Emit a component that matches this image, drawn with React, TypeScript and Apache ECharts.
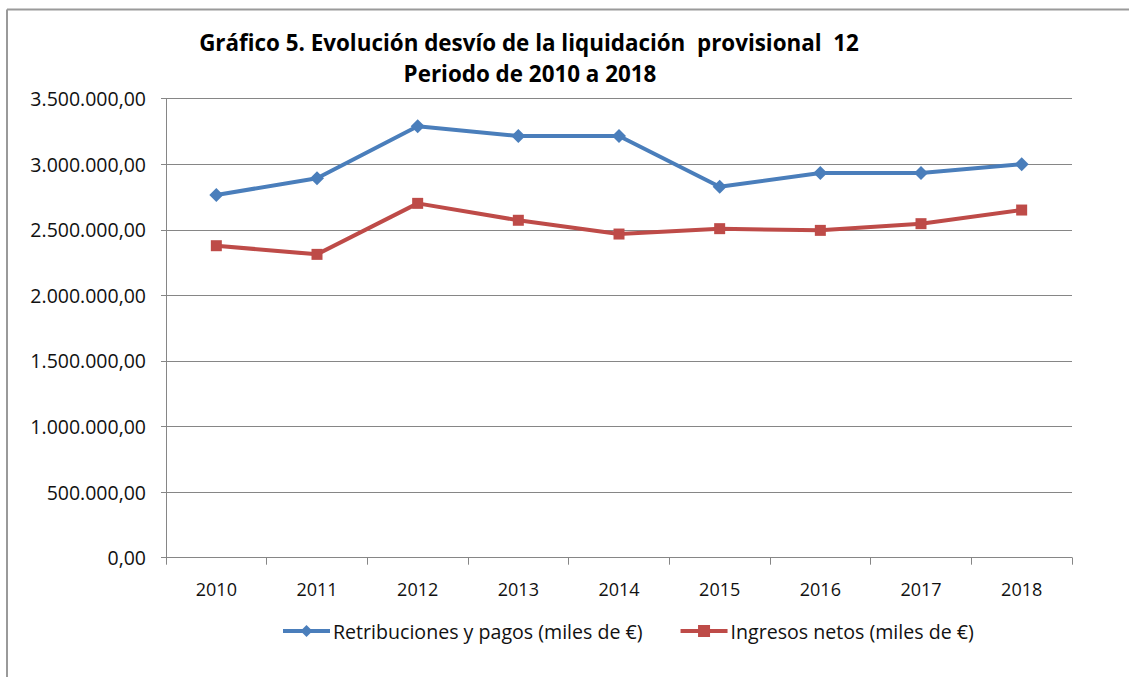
import React, { useEffect, useRef } from "react";
import * as echarts from "echarts";

const years = ["2010", "2011", "2012", "2013", "2014", "2015", "2016", "2017", "2018"];
const retribuciones = [2766000, 2893000, 3290000, 3216000, 3216000, 2829000, 2933000, 2933000, 3000000];
const ingresos = [2379000, 2313000, 2702000, 2573000, 2468000, 2509000, 2496000, 2547000, 2651000];
const seriesNames = ["Retribuciones y pagos (miles de €)", "Ingresos netos (miles de €)"];
const titleLines = ["Gráfico 5. Evolución desvío de la liquidación  provisional  12", "Periodo de 2010 a 2018"];

const FONT = "'Open Sans', Lato, sans-serif";

function fmt(v: number): string {
  const intPart = Math.round(v).toString().replace(/\B(?=(\d{3})+(?!\d))/g, ".");
  return intPart + ",00";
}

export default function App() {
  const ref = useRef<HTMLDivElement>(null);
  useEffect(() => {
    if (!ref.current) return;
    const chart = echarts.init(ref.current, undefined, { renderer: "svg" });
    chart.setOption({
      animation: false,
      backgroundColor: "#fff",
      textStyle: { fontFamily: FONT },
      graphic: [
        { type: "line", shape: { x1: 7, y1: 9.5, x2: 1129, y2: 9.5 }, style: { stroke: "#9a9a9a", lineWidth: 2 } },
        { type: "line", shape: { x1: 7, y1: 9.5, x2: 7, y2: 677 }, style: { stroke: "#9a9a9a", lineWidth: 2 } },
        {
          type: "text", x: 529, y: 42,
          style: { text: titleLines[0], fontFamily: FONT, fontSize: 22.4, fontWeight: "bold", fill: "#000", textAlign: "center", textVerticalAlign: "middle" },
        },
        {
          type: "text", x: 530, y: 73,
          style: { text: titleLines[1], fontFamily: FONT, fontSize: 22.4, fontWeight: "bold", fill: "#000", textAlign: "center", textVerticalAlign: "middle" },
        },
      ],
      grid: { left: 166, right: 57, top: 98.7, bottom: 119.3 },
      legend: {
        left: 276,
        top: 616,
        itemWidth: 47,
        itemHeight: 15,
        itemGap: 36,
        textStyle: { fontFamily: FONT, fontSize: 19.6, color: "#111", padding: [0, 0, 0, -2] },
        data: [
          { name: seriesNames[0], lineStyle: { width: 4 } },
          { name: seriesNames[1], lineStyle: { width: 4 } },
        ],
      },
      xAxis: {
        type: "category",
        data: years,
        boundaryGap: true,
        axisLine: { lineStyle: { color: "#868686", width: 1 } },
        axisTick: { show: true, length: 7, lineStyle: { color: "#868686" } },
        axisLabel: { fontFamily: FONT, fontSize: 18, color: "#111", margin: 22 },
      },
      yAxis: {
        type: "value",
        min: 0,
        max: 3500000,
        interval: 500000,
        axisLine: { show: true, lineStyle: { color: "#868686", width: 1 } },
        axisTick: { show: true, length: 5, lineStyle: { color: "#868686" } },
        splitLine: { lineStyle: { color: "#868686", width: 1 } },
        axisLabel: { fontFamily: FONT, fontSize: 19.5, color: "#111", margin: 20, formatter: (v: number) => fmt(v) },
      },
      series: [
        {
          name: seriesNames[0],
          type: "line",
          data: retribuciones,
          symbol: "diamond",
          symbolSize: 14,
          lineStyle: { color: "#4A7EBB", width: 4 },
          itemStyle: { color: "#4A7EBB" },
        },
        {
          name: seriesNames[1],
          type: "line",
          data: ingresos,
          symbol: "rect",
          symbolSize: 11,
          lineStyle: { color: "#BE4B48", width: 4 },
          itemStyle: { color: "#BE4B48" },
        },
      ],
    });
    return () => chart.dispose();
  }, []);
  return <div ref={ref} style={{ position: "fixed", left: 0, top: 0, width: 1129, height: 677 }} />;
}
